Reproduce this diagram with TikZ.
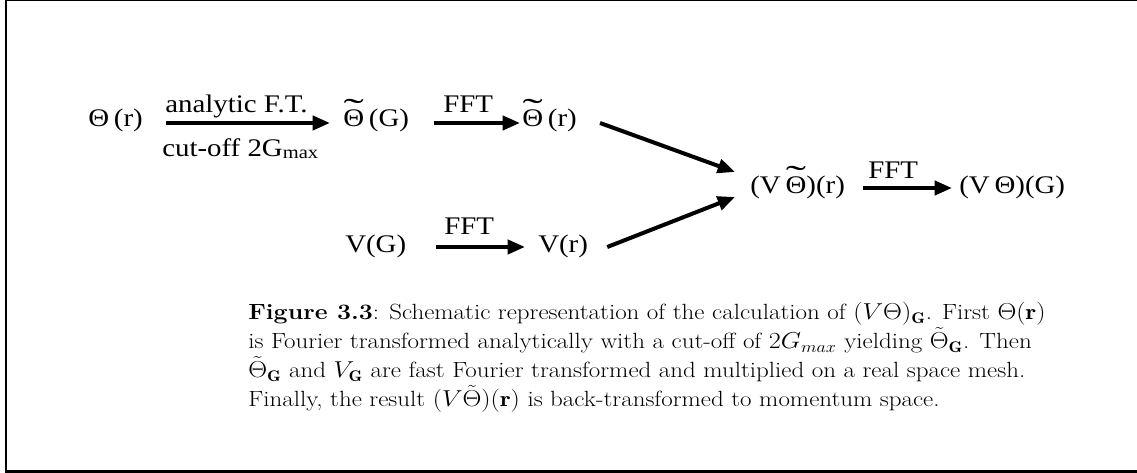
\documentclass[tikz,border=0pt]{standalone}
\usepackage{fontspec}
\usepackage{graphicx}
\newfontfamily\tms{Liberation Serif}
\usetikzlibrary{arrows.meta}
\newcommand{\sx}[1]{\scalebox{1.14}[1]{#1}}
\newcommand{\tTheta}{\ooalign{Θ\cr\hidewidth\raisebox{0.2em}{\scalebox{2.1}[1.3]{\char"02DC}}\hidewidth\cr}}
\begin{document}
\begin{tikzpicture}[x=0.75pt,y=-0.75pt,
  lbl/.style={inner sep=0pt, anchor=base west, font=\tms\fontsize{19}{22}\selectfont},
  arr/.style={line width=3pt, -{Triangle[length=13pt,width=10.5pt]}}]
\useasboundingbox (0,0) rectangle (1137,473);
% frame
\draw[line width=1.5pt] (6,0) -- (6,473);
\draw[line width=0.9pt] (6,0.5) -- (1137,0.5);
\draw[line width=2.4pt] (6,471.2) -- (1137,471.2);
% nodes
\node[lbl] (thr) at (88,127) {\sx{Θ\,(r)}};
\node[lbl] (thG) at (343,127) {\sx{\tTheta\,(G)}};
\node[lbl] (tthr) at (522,127) {\sx{\tTheta\,(r)}};
\node[lbl] (vg) at (345,253) {\sx{V(G)}};
\node[lbl] (vr) at (538,253) {\sx{V(r)}};
\node[lbl] (vtr) at (750,194) {\sx{(V\,\tTheta)(r)}};
\node[lbl] (vtg) at (959,194) {\sx{(V\,Θ)(G)}};
% labels
\node[lbl] (l1) at (165,113) {\sx{analytic F.T.}};
\node[lbl] (l2) at (162,157) {\sx{cut-off 2G{\fontsize{13.5}{15}\selectfont\raisebox{-1.5pt}{max}}}};
\node[lbl] (l3) at (443,113) {\sx{FFT}};
\node[lbl] (l4) at (444,235) {\sx{FFT}};
\node[lbl] (l5) at (868,179) {\sx{FFT}};
% arrows
\draw[arr] ([shift={(23,-4)}]thr.base east) -- ([shift={(-13,-4)}]thG.base west);
\draw[arr] ([shift={(25,-4)}]thG.base east) -- ([shift={(-2,-4)}]tthr.base west);
\draw[arr] ([shift={(30,-6)}]vg.base east) -- ([shift={(-13,-6)}]vr.base west);
\draw[arr] ([shift={(18,-6)}]vtr.base east) -- ([shift={(-7,-6)}]vtg.base west);
\draw[arr] ([shift={(23,-4)}]tthr.base east) -- ([shift={(-15,-22)}]vtr.base west);
\draw[arr] ([shift={(19,-6)}]vr.base east) -- ([shift={(-15,3)}]vtr.base west);
% caption
\node[inner sep=0pt, anchor=base west, font=\fontsize{16.5}{19.9}\selectfont] (cap) at (248,406.5)
{\scalebox{1.135}[1]{\begin{tabular}[b]{@{}l@{}}
\textbf{Figure 3.3}: Schematic representation of the calculation of $(V\Theta)_{\mathbf G}$. First $\Theta(\mathbf r)$\\
is Fourier transformed analytically with a cut-off of $2G_{max}$ yielding $\tilde\Theta_{\mathbf G}$. Then\\
$\tilde\Theta_{\mathbf G}$ and $V_{\mathbf G}$ are fast Fourier transformed and multiplied on a real space mesh.\\
Finally, the result $(V\tilde\Theta)(\mathbf r)$ is back-transformed to momentum space.
\end{tabular}}};
\end{tikzpicture}
\end{document}
